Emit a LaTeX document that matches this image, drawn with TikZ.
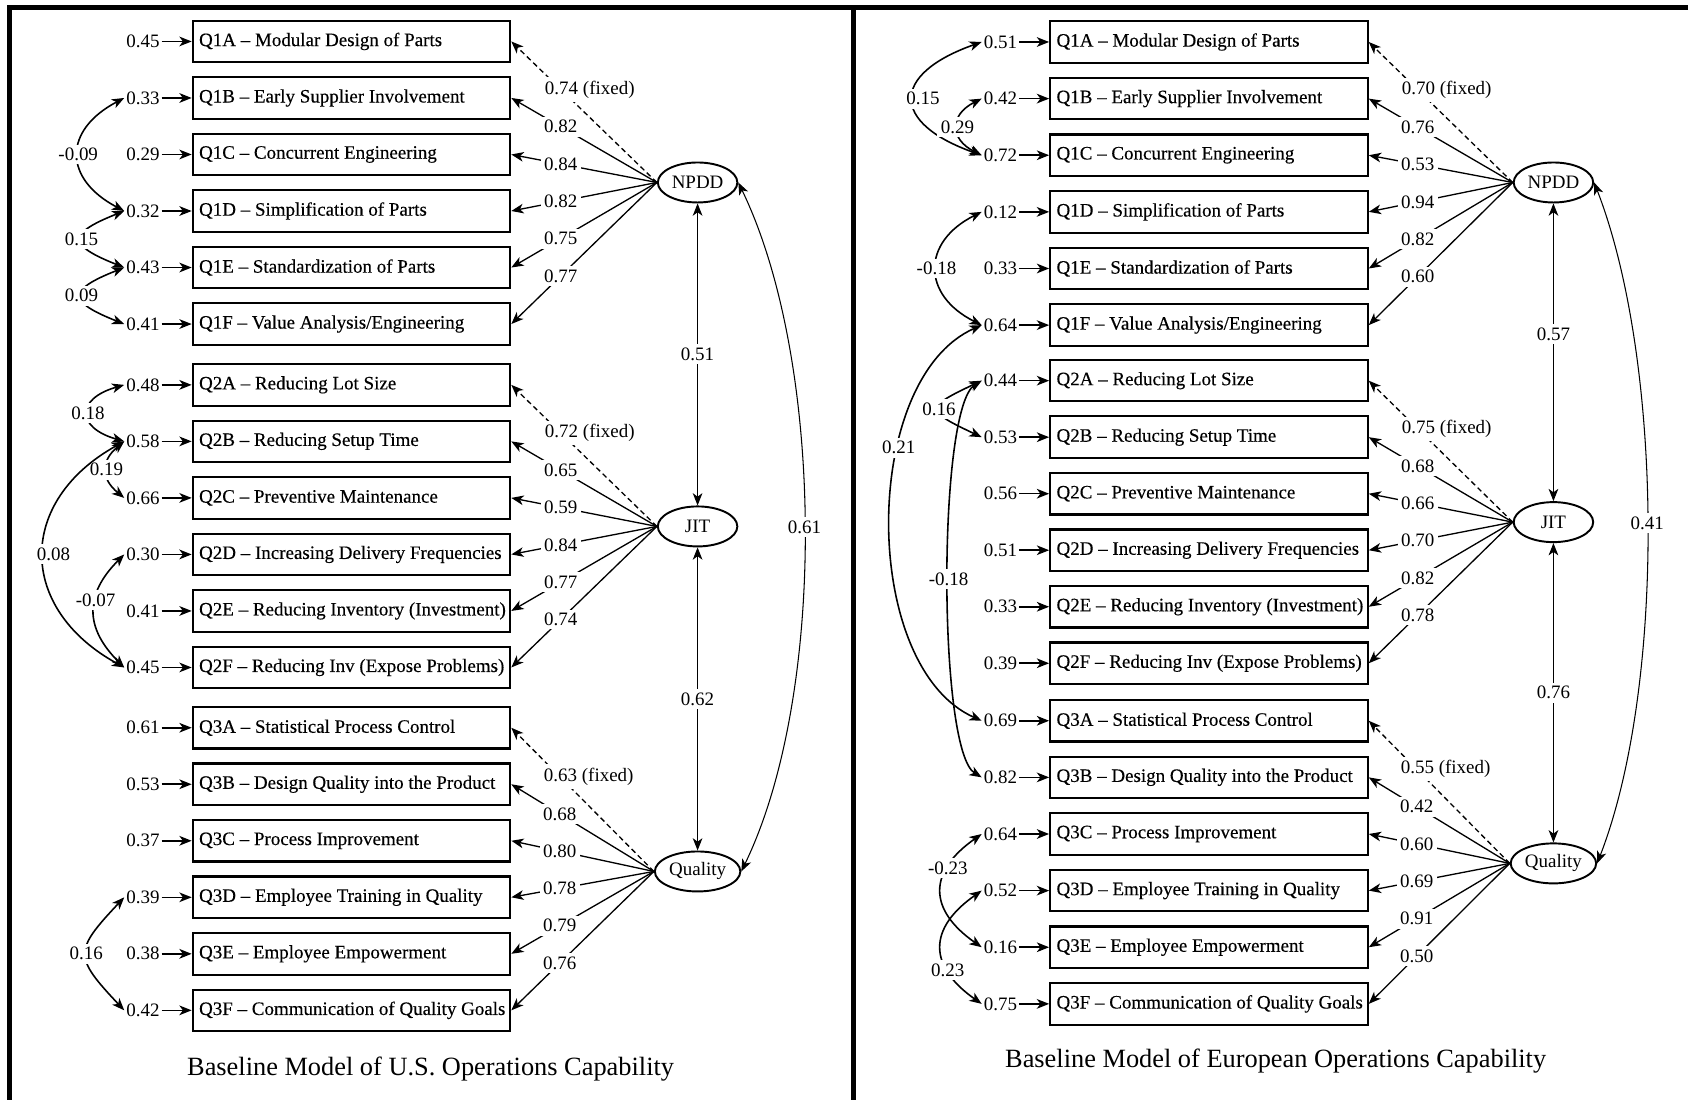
\documentclass[tikz,border=0pt]{standalone}
\usepackage{fontspec}
\setmainfont{Liberation Serif}
\newfontfamily\itemfont[Ligatures=TeX,FakeBold=0.3]{Liberation Serif}
\usetikzlibrary{arrows.meta,positioning,shapes.geometric}

\newcommand{\itemtext}[1]{\makebox[6.2cm][l]{\hspace*{1.5pt}#1}}

\begin{document}
\begin{tikzpicture}[x=0.02153cm, y=-0.02153cm,
  >={Stealth[length=7pt,width=5.5pt,inset=2pt]},
  font=\fontsize{10.8}{13}\selectfont,
  item/.style={draw, line width=1.2pt, minimum height=0.83cm, minimum width=6.35cm, inner xsep=0.075cm, font=\fontsize{10.8}{13}\itemfont},
  factor/.style={draw, ellipse, line width=1.1pt, minimum width=1.59cm, minimum height=0.8cm, inner sep=1pt},
  err/.style={inner sep=1pt},
  coef/.style={fill=white, inner sep=2pt},
  wt/.style={coef, pos=0.66},
  fixedwt/.style={coef, pos=0.66, anchor=west, xshift=-0.4cm},
  load/.style={->, line width=0.75pt},
  fixedload/.style={load, dash pattern=on 3pt off 2pt},
  errarrow/.style={->, line width=0.9pt},
  cov/.style={<->, line width=0.9pt},
  corr/.style={<->, line width=0.6pt},
  frame/.style={line width=2.8pt},
  title/.style={font=\fontsize{15}{18}\selectfont}]
\useasboundingbox (0,0) rectangle (1568,1021);

% panel frame
\draw[frame] (9,1030) -- (9,7) -- (1575,7);
\draw[frame] (792.5,7) -- (792.5,1030);

% ---- U.S. model ----
\foreach \q/\t/\v [count=\k from 0] in {1A/Modular Design of Parts/0.45, 1B/Early Supplier Involvement/0.33, 1C/Concurrent Engineering/0.29, 1D/Simplification of Parts/0.32, 1E/Standardization of Parts/0.43, 1F/{Value Analysis/Engineering}/0.41}
{
  \node[item] (L\q) at (326.5,38.5+52.5*\k) {\itemtext{Q\q\ -- \t}};
  \node[err, left=0.6cm of L\q] (eL\q) {\v};
  \draw[errarrow] (eL\q) -- (L\q);
}
\foreach \q/\t/\v [count=\k from 0] in {2A/Reducing Lot Size/0.48, 2B/Reducing Setup Time/0.58, 2C/Preventive Maintenance/0.66, 2D/Increasing Delivery Frequencies/0.30, 2E/Reducing Inventory (Investment)/0.41, 2F/Reducing Inv (Expose Problems)/0.45}
{
  \node[item] (L\q) at (326.5,357.5+52.5*\k) {\itemtext{Q\q\ -- \t}};
  \node[err, left=0.6cm of L\q] (eL\q) {\v};
  \draw[errarrow] (eL\q) -- (L\q);
}
\foreach \q/\t/\v [count=\k from 0] in {3A/Statistical Process Control/0.61, 3B/Design Quality into the Product/0.53, 3C/Process Improvement/0.37, 3D/Employee Training in Quality/0.39, 3E/Employee Empowerment/0.38, 3F/Communication of Quality Goals/0.42}
{
  \node[item] (L\q) at (326.5,676+52.5*\k) {\itemtext{Q\q\ -- \t}};
  \node[err, left=0.6cm of L\q] (eL\q) {\v};
  \draw[errarrow] (eL\q) -- (L\q);
}

\node[factor] (lNPDD) at (648,169.5) {NPDD};
\node[factor] (lJIT) at (648,489) {JIT};
\node[factor] (lQual) at (648,809.5) {Quality};

% loadings
\draw[fixedload] (lNPDD.west) -- node[fixedwt] {0.74 (fixed)} (L1A.east);
\foreach \q/\v in {1B/0.82, 1C/0.84, 1D/0.82, 1E/0.75, 1F/0.77}
  \draw[load] (lNPDD.west) -- node[wt] {\v} (L\q.east);
\draw[fixedload] (lJIT.west) -- node[fixedwt] {0.72 (fixed)} (L2A.east);
\foreach \q/\v in {2B/0.65, 2C/0.59, 2D/0.84, 2E/0.77, 2F/0.74}
  \draw[load] (lJIT.west) -- node[wt] {\v} (L\q.east);
\draw[fixedload] (lQual.west) -- node[fixedwt] {0.63 (fixed)} (L3A.east);
\foreach \q/\v in {3B/0.68, 3C/0.80, 3D/0.78, 3E/0.79, 3F/0.76}
  \draw[load] (lQual.west) -- node[wt] {\v} (L\q.east);

% error covariances
\draw[cov] (eL1B.west) .. controls +(-57,30) and +(-57,-30) .. node[coef] {-0.09} (eL1D.west);
\draw[cov] (eL1D.west) .. controls +(-53,21) and +(-53,-21) .. node[coef] {0.15} (eL1E.west);
\draw[cov] (eL1E.west) .. controls +(-53,21) and +(-53,-21) .. node[coef] {0.09} (eL1F.west);
\draw[cov] (eL2A.west) .. controls +(-45,13) and +(-45,-13) .. node[coef] {0.18} (eL2B.west);
\draw[cov] (eL2B.west) .. controls +(-22,18) and +(-22,-18) .. node[coef] {0.19} (eL2C.west);
\draw[cov] (eL2B.west) .. controls +(-100,55) and +(-100,-55) .. node[coef, xshift=0.2cm] {0.08} (eL2F.west);
\draw[cov] (eL2D.west) .. controls +(-37,37) and +(-37,-37) .. node[coef, pos=0.4] {-0.07} (eL2F.west);
\draw[cov] (eL3D.west) .. controls +(-47,50) and +(-47,-50) .. node[coef] {0.16} (eL3F.west);

% factor correlations
\draw[corr] (lNPDD) -- node[coef] {0.51} (lJIT);
\draw[corr] (lJIT) -- node[coef] {0.62} (lQual);
\draw[corr] (lNPDD.east) .. controls +(80,165) and +(80,-165) .. node[coef] {0.61} (lQual.east);

\node[title] (tUS) at (400,993) {Baseline Model of U.S. Operations Capability};

% ---- European model ----
\foreach \q/\t/\v [count=\k from 0] in {1A/Modular Design of Parts/0.51, 1B/Early Supplier Involvement/0.42, 1C/Concurrent Engineering/0.72, 1D/Simplification of Parts/0.12, 1E/Standardization of Parts/0.33, 1F/{Value Analysis/Engineering}/0.64}
{
  \node[item] (R\q) at (1123,39+52.6*\k) {\itemtext{Q\q\ -- \t}};
  \node[err, left=0.6cm of R\q] (eR\q) {\v};
  \draw[errarrow] (eR\q) -- (R\q);
}
\foreach \q/\t/\v [count=\k from 0] in {2A/Reducing Lot Size/0.44, 2B/Reducing Setup Time/0.53, 2C/Preventive Maintenance/0.56, 2D/Increasing Delivery Frequencies/0.51, 2E/Reducing Inventory (Investment)/0.33, 2F/Reducing Inv (Expose Problems)/0.39}
{
  \node[item] (R\q) at (1123,353.6+52.5*\k) {\itemtext{Q\q\ -- \t}};
  \node[err, left=0.6cm of R\q] (eR\q) {\v};
  \draw[errarrow] (eR\q) -- (R\q);
}
\foreach \q/\t/\v [count=\k from 0] in {3A/Statistical Process Control/0.69, 3B/Design Quality into the Product/0.82, 3C/Process Improvement/0.64, 3D/Employee Training in Quality/0.52, 3E/Employee Empowerment/0.16, 3F/Communication of Quality Goals/0.75}
{
  \node[item] (R\q) at (1123,669.5+52.6*\k) {\itemtext{Q\q\ -- \t}};
  \node[err, left=0.6cm of R\q] (eR\q) {\v};
  \draw[errarrow] (eR\q) -- (R\q);
}

\node[factor] (rNPDD) at (1443,169.5) {NPDD};
\node[factor] (rJIT) at (1443,485) {JIT};
\node[factor] (rQual) at (1443,802) {Quality};

% loadings
\draw[fixedload] (rNPDD.west) -- node[fixedwt] {0.70 (fixed)} (R1A.east);
\foreach \q/\v in {1B/0.76, 1C/0.53, 1D/0.94, 1E/0.82, 1F/0.60}
  \draw[load] (rNPDD.west) -- node[wt] {\v} (R\q.east);
\draw[fixedload] (rJIT.west) -- node[fixedwt] {0.75 (fixed)} (R2A.east);
\foreach \q/\v in {2B/0.68, 2C/0.66, 2D/0.70, 2E/0.82, 2F/0.78}
  \draw[load] (rJIT.west) -- node[wt] {\v} (R\q.east);
\draw[fixedload] (rQual.west) -- node[fixedwt] {0.55 (fixed)} (R3A.east);
\foreach \q/\v in {3B/0.42, 3C/0.60, 3D/0.69, 3E/0.91, 3F/0.50}
  \draw[load] (rQual.west) -- node[wt] {\v} (R\q.east);

% error covariances
\draw[cov] (eR1A.west) .. controls +(-85,30) and +(-85,-30) .. node[coef, xshift=0.2cm] {0.15} (eR1C.west);
\draw[cov] (eR1B.west) .. controls +(-30,15) and +(-30,-15) .. node[coef] {0.29} (eR1C.west);
\draw[cov] (eR1D.west) .. controls +(-56,28) and +(-56,-28) .. node[coef] {-0.18} (eR1F.west);
\draw[cov] (eR1F.west) .. controls +(-113,50) and +(-113,-50) .. node[coef, pos=0.35] {0.21} (eR3A.west);
\draw[cov] (eR2A.west) .. controls +(-53,25) and +(-53,-25) .. node[coef] {0.16} (eR2B.west);
\draw[cov] (eR2A.west) .. controls +(-41,25) and +(-41,-25) .. node[coef] {-0.18} (eR3B.west);
\draw[cov] (eR3C.west) .. controls +(-50,35) and +(-50,-35) .. node[coef, pos=0.3] {-0.23} (eR3E.west);
\draw[cov] (eR3D.west) .. controls +(-50,35) and +(-50,-35) .. node[coef, pos=0.7] {0.23} (eR3F.west);

% factor correlations
\draw[corr] (rNPDD) -- node[coef, pos=0.44] {0.57} (rJIT);
\draw[corr] (rJIT) -- node[coef] {0.76} (rQual);
\draw[corr] (rNPDD.east) .. controls +(64,165) and +(64,-165) .. node[coef] {0.41} (rQual.east);

\node[title] (tEU) at (1185,986) {Baseline Model of European Operations Capability};
\end{tikzpicture}
\end{document}
